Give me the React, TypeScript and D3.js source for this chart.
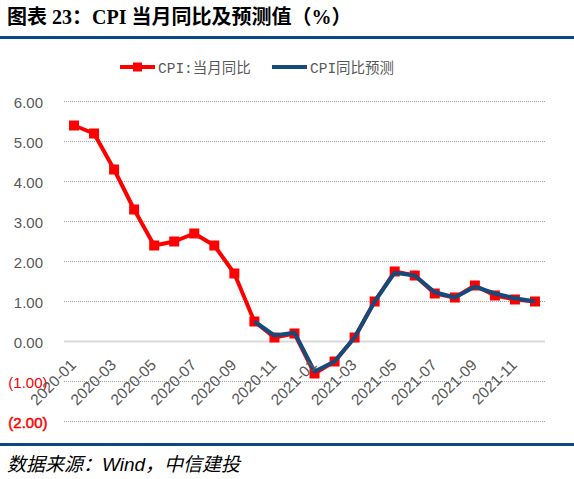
import React from "react";
import * as d3 from "d3";

const months = [
  "2020-01","2020-02","2020-03","2020-04","2020-05","2020-06","2020-07","2020-08","2020-09","2020-10","2020-11","2020-12",
  "2021-01","2021-02","2021-03","2021-04","2021-05","2021-06","2021-07","2021-08","2021-09","2021-10","2021-11","2021-12",
];
const cpiActual = [5.4, 5.2, 4.3, 3.3, 2.4, 2.5, 2.7, 2.4, 1.7, 0.5, 0.1, 0.2, -0.8, -0.5, 0.1, 1.0, 1.75, 1.65, 1.2, 1.1, 1.4, 1.15, 1.05, 1.0];
const forecastMonths = months.slice(9);
const cpiForecast = [0.5, 0.15, 0.22, -0.75, -0.5, 0.1, 1.0, 1.72, 1.65, 1.23, 1.1, 1.37, 1.2, 1.08, 1.0];
const yTicks = [6, 5, 4, 3, 2, 1, 0, -1, -2];
const xTickLabels = months.filter((_, i) => i % 2 === 0);

const W = 574, H = 479;
const RED = "#ff0000";
const BLUE = "#134b7c";
const GRAY = "#595959";

export default function App() {
  const x = d3.scaleBand<string>().domain(months).range([64, 545]);
  const cx = (m: string) => (x(m) as number) + x.bandwidth() / 2;
  const y = d3.scaleLinear().domain([-2, 6]).range([421.5, 101.5]);

  const line = d3.line<number>().x((_, i) => cx(months[i])).y((d) => y(d));
  const fline = d3.line<number>().x((_, i) => cx(forecastMonths[i])).y((d) => y(d));

  const fmt = (v: number) => (v < 0 ? `(${Math.abs(v).toFixed(2)})` : v.toFixed(2));

  return (
    <div style={{ position: "absolute", left: 0, top: 0 }}>
      <svg width={W} height={H} style={{ display: "block", background: "#fff" }}>
        <text x={7} y={24} fontFamily="'Liberation Serif', 'Noto Sans CJK SC'" fontWeight="bold" fontSize={20} fill="#000">
          图表 23：CPI 当月同比及预测值（%）
        </text>
        <rect x={0} y={36} width={W} height={3} fill="#0b4a80" />

        {/* legend */}
        <line x1={120} x2={155} y1={67} y2={67} stroke={RED} strokeWidth={4} />
        <rect x={133} y={62.5} width={9} height={9} fill={RED} />
        <text x={158} y={72.5} fontFamily="'Liberation Mono', 'Noto Sans CJK SC'" fontSize={14.5} fill={GRAY}>CPI:当月同比</text>
        <line x1={272} x2={307} y1={67} y2={67} stroke={BLUE} strokeWidth={4} />
        <text x={310} y={72.5} fontFamily="'Liberation Mono', 'Noto Sans CJK SC'" fontSize={14.5} fill={GRAY}>CPI同比预测</text>

        {/* grid */}
        {yTicks.map((t) => (
          <line key={t} x1={64} x2={545} y1={y(t)} y2={y(t)}
            stroke={t === 0 ? "#d9d9d9" : "#a6a6a6"}
            strokeWidth={t === 0 ? 2 : 1}
            strokeDasharray={t === 0 ? undefined : "1 1"} />
        ))}

        {/* y labels */}
        {yTicks.map((t) => (
          <text key={"yl" + t} x={t < 0 ? 47.5 : 43} y={y(t) + 6.5} textAnchor="end"
            fontFamily="'Liberation Sans', Arial" fontSize={15}
            fill={t < 0 ? RED : GRAY}
            stroke={t === -2 ? RED : undefined} strokeWidth={t === -2 ? 0.5 : 0}>
            {fmt(t)}
          </text>
        ))}

        {/* actual series */}
        <path d={line(cpiActual) || ""} fill="none" stroke={RED} strokeWidth={4} strokeLinejoin="round" />
        {cpiActual.map((v, i) => (
          <rect key={"m" + i} x={cx(months[i]) - 5} y={y(v) - 5} width={10} height={10} fill={RED} />
        ))}

        {/* forecast series */}
        <path d={fline(cpiForecast) || ""} fill="none" stroke={BLUE} strokeWidth={4} strokeLinejoin="round" />

        {/* x labels */}
        {xTickLabels.map((m) => (
          <text key={m} transform={`translate(${cx(m) + 3},${366}) rotate(-45)`} textAnchor="end"
            fontFamily="'Liberation Sans', Arial" fontSize={15.5} fill={GRAY}>
            {m}
          </text>
        ))}

        <rect x={0} y={443} width={W} height={3} fill="#0b4a80" />
        <text x={7} y={471} fontFamily="'Liberation Sans', 'Noto Sans CJK SC'" fontStyle="italic" fontSize={19} fill="#000">
          数据来源：Wind，中信建投
        </text>
      </svg>
    </div>
  );
}
